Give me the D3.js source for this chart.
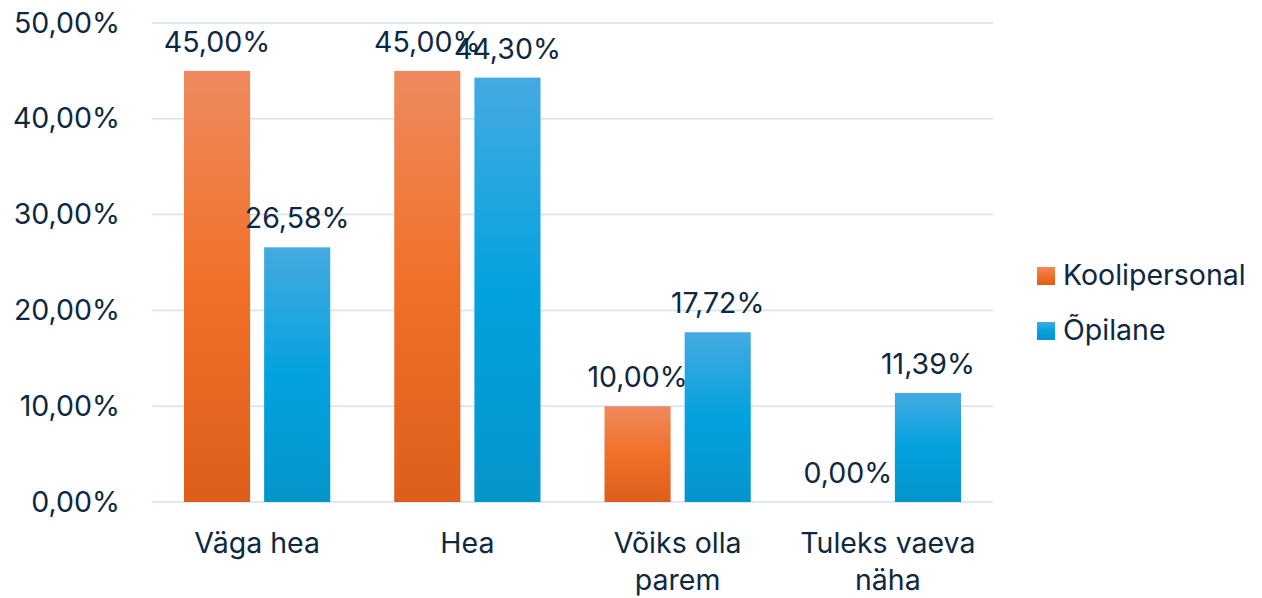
<!DOCTYPE html>
<html>
<head>
<meta charset="utf-8">
<script src="https://cdn.jsdelivr.net/npm/d3@7"></script>
<style>
  body { margin: 0; background: #fff; }
  text { font-family: "Inter", "Open Sans", sans-serif; fill: #0E2841; }
</style>
</head>
<body>
<div id="chart"></div>
<script>
const WIDTH = 1262, HEIGHT = 598;
const MARGIN = { LEFT: 152, RIGHT: 269, TOP: 23, BOTTOM: 96 };
const FONT = 28.5;

// data
const categories = [["Väga hea"], ["Hea"], ["Võiks olla", "parem"], ["Tuleks vaeva", "näha"]];
const seriesNames = ["Koolipersonal", "Õpilane"];
const koolipersonal = [45.00, 45.00, 10.00, 0.00];
const opilane = [26.58, 44.30, 17.72, 11.39];
const yTicks = [0, 10, 20, 30, 40, 50];

const gradients = [
  ["#EE8A5E", "#F07028", "#DD5E1A"],
  ["#45AAE0", "#03A2DF", "#0595CB"]
];

const fmt = v => v.toFixed(2).replace(".", ",") + "%";

const svg = d3.select("#chart").append("svg").attr("width", WIDTH).attr("height", HEIGHT);
const plotW = WIDTH - MARGIN.LEFT - MARGIN.RIGHT;
const plotH = HEIGHT - MARGIN.TOP - MARGIN.BOTTOM;

const defs = svg.append("defs");
gradients.forEach((g, i) => {
  const lg = defs.append("linearGradient").attr("id", "grad" + i)
    .attr("x1", 0).attr("y1", 0).attr("x2", 0).attr("y2", 1);
  lg.append("stop").attr("offset", "0%").attr("stop-color", g[0]);
  lg.append("stop").attr("offset", "50%").attr("stop-color", g[1]);
  lg.append("stop").attr("offset", "100%").attr("stop-color", g[2]);
});

const g = svg.append("g").attr("transform", `translate(${MARGIN.LEFT},${MARGIN.TOP})`);

const x0 = d3.scaleBand().domain(d3.range(categories.length)).range([0, plotW]).paddingInner(0).paddingOuter(0);
const x1 = d3.scaleBand().domain([0, 1]).range([32, x0.bandwidth() - 32]).paddingInner(0.175);
const y = d3.scaleLinear().domain([0, 50]).range([plotH, 0]);

// gridlines
g.append("g").selectAll("line").data(yTicks).join("line")
  .attr("x1", 0).attr("x2", plotW)
  .attr("y1", d => y(d)).attr("y2", d => y(d))
  .attr("stroke", "#D3E1F3").attr("stroke-width", 1.5);

// y axis labels
const yAxis = d3.axisLeft(y).tickValues(yTicks).tickFormat(fmt).tickSize(0).tickPadding(32);
const ya = g.append("g").call(yAxis);
ya.select(".domain").remove();
ya.selectAll("text").attr("font-size", FONT).style("fill", "#0E2841").attr("font-family", "Inter, Open Sans, sans-serif");

// bars
const series = [koolipersonal, opilane];
series.forEach((vals, si) => {
  const grp = g.append("g");
  grp.selectAll("rect").data(vals).join("rect")
    .attr("x", (d, i) => x0(i) + x1(si))
    .attr("y", d => y(d))
    .attr("width", x1.bandwidth())
    .attr("height", d => plotH - y(d))
    .attr("fill", `url(#grad${si})`);
  grp.selectAll("text").data(vals).join("text")
    .attr("x", (d, i) => x0(i) + x1(si) + x1.bandwidth() / 2)
    .attr("y", d => y(d) - 19)
    .attr("text-anchor", "middle")
    .attr("font-size", FONT)
    .text(fmt);
});

// x labels
const xl = g.append("g").selectAll("text").data(categories).join("text")
  .attr("x", (d, i) => x0(i) + x0.bandwidth() / 2)
  .attr("y", plotH + 51)
  .attr("text-anchor", "middle")
  .attr("font-size", FONT);
xl.selectAll("tspan").data(d => d).join("tspan")
  .attr("x", function () { return d3.select(this.parentNode).attr("x"); })
  .attr("dy", (d, i) => i === 0 ? 0 : 37)
  .text(d => d);

// legend
const legend = svg.append("g").attr("transform", "translate(1037,267)");
seriesNames.forEach((name, i) => {
  const row = legend.append("g").attr("transform", `translate(0,${i * 55})`);
  row.append("rect").attr("width", 18).attr("height", 18).attr("fill", `url(#grad${i})`);
  row.append("text").attr("x", 26).attr("y", 18).attr("font-size", FONT).text(name);
});
</script>
</body>
</html>
